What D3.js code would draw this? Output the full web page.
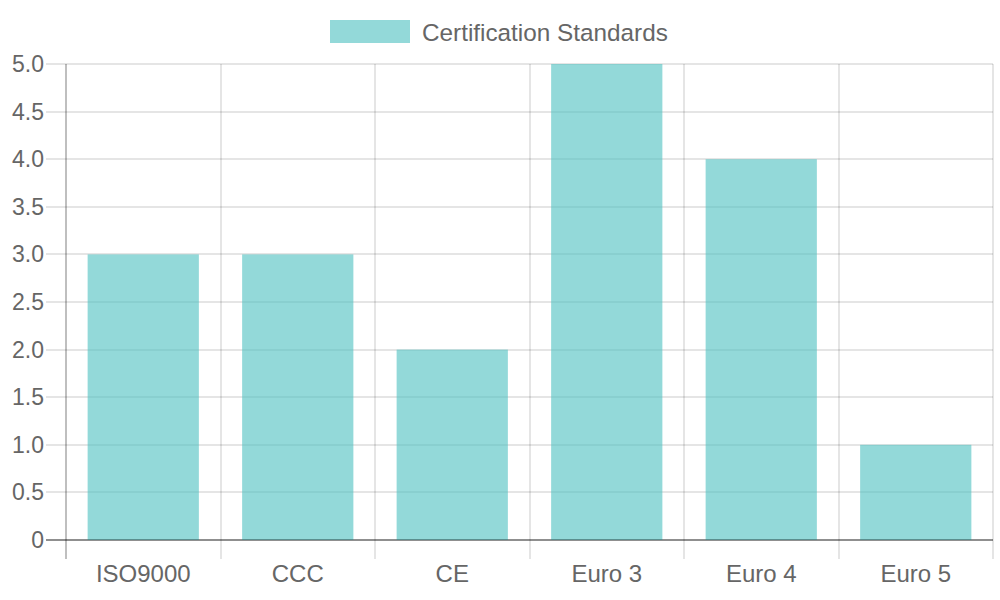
<!DOCTYPE html>
<html>
<head>
    <meta charset="utf-8">
    <title>Certification Standards</title>
    <script src="https://d3js.org/d3.v7.min.js"></script>
    <style>
        body { margin: 0; background: #fff; }
        svg { display: block; font-family: 'Liberation Sans', Arial, sans-serif; }
    </style>
</head>
<body>
    <div class="chart"></div>
    <script>
        const categories = ['ISO9000', 'CCC', 'CE', 'Euro 3', 'Euro 4', 'Euro 5']
        const values = [3, 3, 2, 5, 4, 1]
        const yTicks = [0, 0.5, 1, 1.5, 2, 2.5, 3, 3.5, 4, 4.5, 5]
        const seriesName = 'Certification Standards'

        const w = 1000
        const h = 600
        const plot = { left: 66, right: 993, top: 64, bottom: 540 }
        const textColor = '#666'
        const gridColor = 'rgba(0,0,0,0.1)'
        const axisColor = 'rgba(0,0,0,0.25)'
        const barColor = 'rgba(75,192,192,0.6)'

        const svg = d3.select('.chart')
            .append('svg')
            .attr('width', w)
            .attr('height', h)

        const x = d3.scaleBand()
            .domain(categories)
            .range([plot.left, plot.right])

        const y = d3.scaleLinear()
            .domain([0, 5])
            .range([plot.bottom, plot.top])

        // horizontal grid + tick marks
        svg.append('g')
            .selectAll('line')
            .data(yTicks)
            .enter()
            .append('line')
            .attr('x1', plot.left - 20)
            .attr('x2', plot.right)
            .attr('y1', d => Math.round(y(d)))
            .attr('y2', d => Math.round(y(d)))
            .attr('stroke', d => d === 0 ? axisColor : gridColor)
            .attr('stroke-width', 2)

        // vertical grid at category edges
        const edges = categories.map(c => x(c)).concat([plot.right])
        svg.append('g')
            .selectAll('line')
            .data(edges)
            .enter()
            .append('line')
            .attr('x1', d => Math.round(d))
            .attr('x2', d => Math.round(d))
            .attr('y1', plot.top)
            .attr('y2', plot.bottom + 19)
            .attr('stroke', (d, i) => i === 0 ? axisColor : gridColor)
            .attr('stroke-width', 2)

        // bars
        const barW = x.bandwidth() * 0.72
        svg.append('g')
            .selectAll('rect')
            .data(values)
            .enter()
            .append('rect')
            .attr('x', (d, i) => x(categories[i]) + (x.bandwidth() - barW) / 2)
            .attr('y', d => y(d))
            .attr('width', barW)
            .attr('height', d => y(0) - y(d))
            .attr('fill', barColor)

        // x axis line on top of bars
        svg.append('line')
            .attr('x1', plot.left - 20)
            .attr('x2', plot.right)
            .attr('y1', y(0))
            .attr('y2', y(0))
            .attr('stroke', axisColor)
            .attr('stroke-width', 2)

        // y labels
        svg.append('g')
            .selectAll('text')
            .data(yTicks)
            .enter()
            .append('text')
            .attr('x', 44)
            .attr('y', d => y(d))
            .attr('dy', '0.35em')
            .attr('text-anchor', 'end')
            .attr('fill', textColor)
            .style('font-size', '23px')
            .text(d => d === 0 ? '0' : d3.format('.1f')(d))

        // x labels
        svg.append('g')
            .selectAll('text')
            .data(categories)
            .enter()
            .append('text')
            .attr('x', d => x(d) + x.bandwidth() / 2)
            .attr('y', 574)
            .attr('dy', '0.35em')
            .attr('text-anchor', 'middle')
            .attr('fill', textColor)
            .style('font-size', '24px')
            .text(d => d)

        // legend
        const legend = svg.append('g')
        legend.append('rect')
            .attr('x', 330)
            .attr('y', 20)
            .attr('width', 80)
            .attr('height', 23)
            .attr('fill', barColor)
        legend.append('text')
            .attr('x', 422)
            .attr('y', 32)
            .attr('dy', '0.35em')
            .attr('fill', textColor)
            .style('font-size', '24.3px')
            .text(seriesName)
    </script>
</body>
</html>
